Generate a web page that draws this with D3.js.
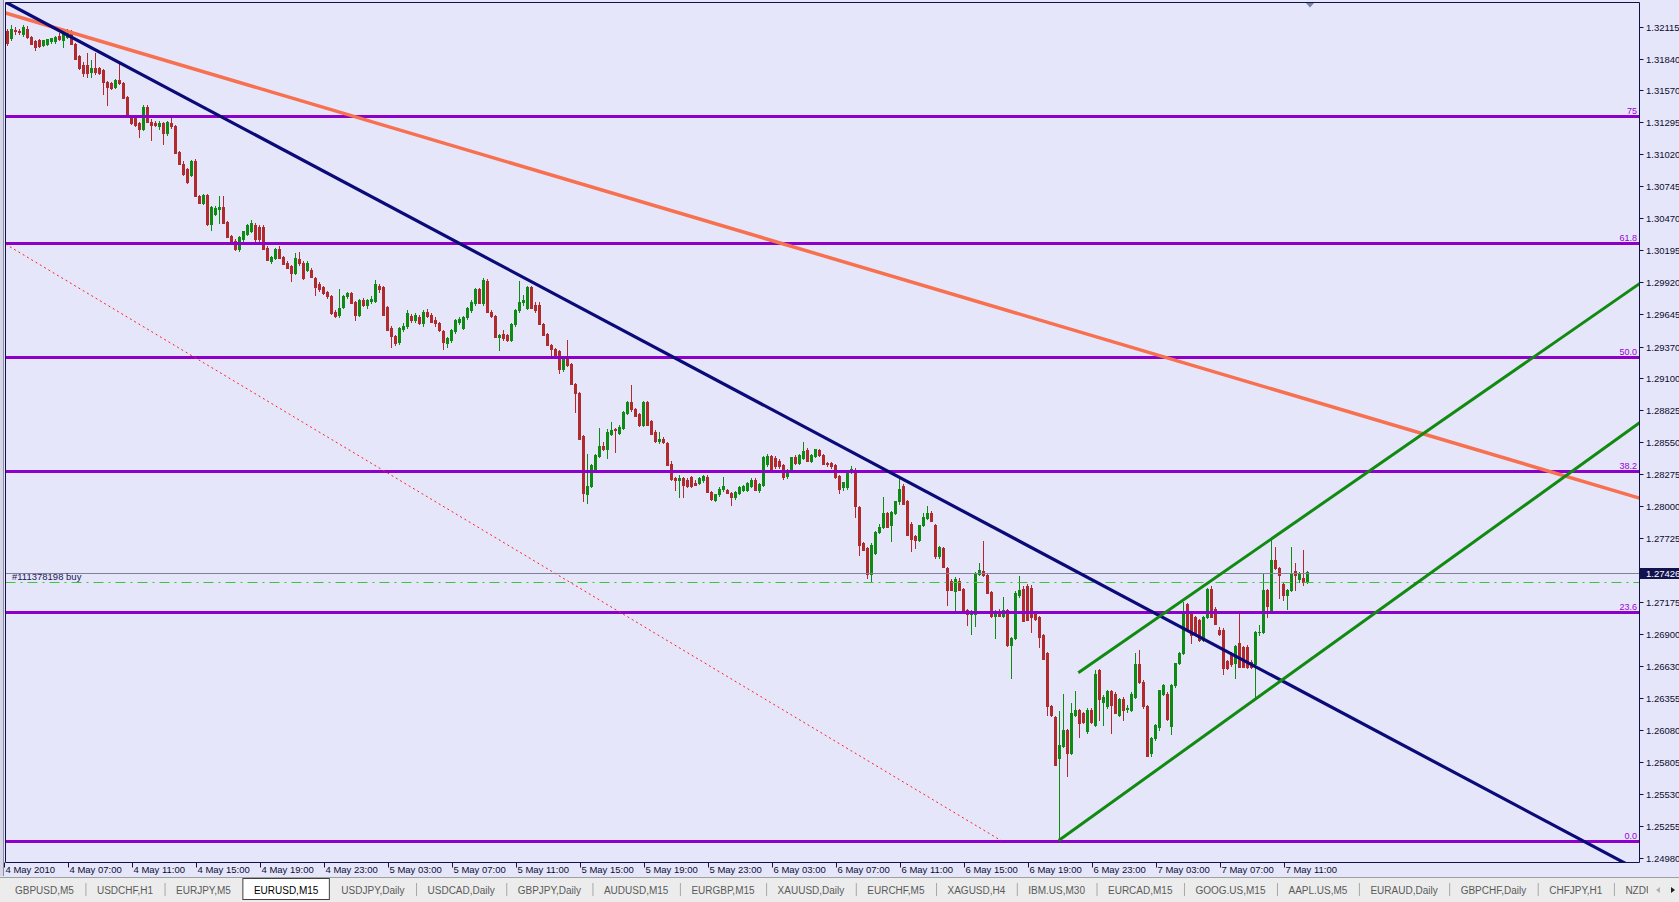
<!DOCTYPE html>
<html><head><meta charset="utf-8">
<script src="https://cdn.jsdelivr.net/npm/d3@7/dist/d3.min.js"></script>
<style>
html,body{margin:0;padding:0;background:#e6e6fa;overflow:hidden}
svg{display:block}
text{font-family:"Liberation Sans",Arial,sans-serif}
</style></head><body>
<svg id="chart" width="1679" height="902"></svg>
<script>
// ---------------- DATA ----------------
// EURUSD M15 candles [open, high, low, close], first bar = 4 May 2010 03:00
const may4 = [
[1.3208,1.3210,1.3196,1.3198],[1.3202,1.3213,1.3200,1.3210],[1.3209,1.3211,1.3205,1.3208],[1.3208,1.3210,1.3205,1.3207],
[1.3205,1.3213,1.3204,1.3211],[1.3210,1.3212,1.3202,1.3203],[1.3203,1.3204,1.3197,1.3197],[1.3199,1.3200,1.3192,1.3194],
[1.3200,1.3201,1.3194,1.3195],[1.3196,1.3200,1.3195,1.3200],[1.3197,1.3201,1.3196,1.3201],[1.3199,1.3202,1.3198,1.3202],
[1.3199,1.3204,1.3198,1.3203],[1.3204,1.3206,1.3200,1.3201],[1.3200,1.3206,1.3194,1.3206],[1.3203,1.3210,1.3202,1.3208],
[1.3206,1.3209,1.3197,1.3197],[1.3197,1.3198,1.3184,1.3184],[1.3186,1.3187,1.3175,1.3176],[1.3179,1.3181,1.3169,1.3172],
[1.3179,1.3189,1.3168,1.3172],[1.3173,1.3183,1.3168,1.3176],[1.3176,1.3189,1.3171,1.3173],[1.3176,1.3177,1.3171,1.3172],
[1.3174,1.3175,1.3154,1.3164],[1.3164,1.3165,1.3144,1.3160],[1.3163,1.3164,1.3158,1.3159],[1.3160,1.3167,1.3159,1.3166],
[1.3166,1.3182,1.3162,1.3163],[1.3163,1.3164,1.3150,1.3150],[1.3151,1.3152,1.3134,1.3134],[1.3134,1.3135,1.3128,1.3129],
[1.3133,1.3136,1.3126,1.3127],[1.3129,1.3130,1.3117,1.3124],[1.3124,1.3144,1.3123,1.3143],[1.3143,1.3144,1.3130,1.3130],
[1.3130,1.3132,1.3114,1.3127],[1.3129,1.3131,1.3126,1.3127],[1.3126,1.3131,1.3124,1.3129],[1.3129,1.3130,1.3111,1.3120],
[1.3120,1.3131,1.3119,1.3130],[1.3129,1.3133,1.3125,1.3126],[1.3126,1.3127,1.3103,1.3103],[1.3104,1.3105,1.3094,1.3094],
[1.3094,1.3096,1.3084,1.3085],[1.3089,1.3090,1.3077,1.3078],[1.3084,1.3097,1.3083,1.3096],[1.3096,1.3098,1.3066,1.3066],
[1.3066,1.3067,1.3060,1.3060],[1.3060,1.3068,1.3059,1.3067],[1.3067,1.3068,1.3041,1.3042],[1.3042,1.3058,1.3037,1.3057],
[1.3051,1.3058,1.3050,1.3056],[1.3055,1.3066,1.3043,1.3057],[1.3057,1.3066,1.3043,1.3043],[1.3044,1.3045,1.3031,1.3031],
[1.3032,1.3033,1.3025,1.3027],[1.3028,1.3029,1.3020,1.3021],[1.3021,1.3032,1.3019,1.3031],[1.3029,1.3036,1.3028,1.3036],
[1.3034,1.3042,1.3033,1.3041],[1.3036,1.3046,1.3035,1.3043],[1.3041,1.3043,1.3028,1.3029],[1.3040,1.3041,1.3028,1.3029],
[1.3040,1.3041,1.3021,1.3021],[1.3022,1.3023,1.3011,1.3011],[1.3010,1.3015,1.3009,1.3014],[1.3013,1.3022,1.3012,1.3021],
[1.3021,1.3023,1.3013,1.3013],[1.3014,1.3015,1.3008,1.3008],[1.3009,1.3010,1.3004,1.3004],[1.3006,1.3007,1.2993,1.3000],
[1.3000,1.3017,1.2999,1.3013],[1.3012,1.3018,1.3007,1.3009],[1.3009,1.3010,1.2995,1.2996],[1.3003,1.3010,1.3002,1.3009],
[1.3003,1.3004,1.2997,1.2997],[1.2996,1.2997,1.2981,1.2988],[1.2991,1.2992,1.2985,1.2986],[1.2988,1.2989,1.2982,1.2983],
[1.2984,1.2985,1.2979,1.2980],[1.2980,1.2981,1.2965,1.2966],[1.2967,1.2968,1.2962,1.2963],[1.2964,1.2986,1.2962,1.2970]
];
const may5 = [
[1.2971,1.2981,1.2970,1.2980],[1.2980,1.2984,1.2979,1.2983],[1.2983,1.2984,1.2974,1.2974],[1.2975,1.2976,1.2960,1.2964],
[1.2964,1.2978,1.2963,1.2977],[1.2977,1.2979,1.2972,1.2973],[1.2973,1.2978,1.2970,1.2977],[1.2976,1.2980,1.2974,1.2978],
[1.2976,1.2994,1.2975,1.2991],[1.2989,1.2991,1.2984,1.2986],[1.2988,1.2989,1.2964,1.2964],[1.2971,1.2972,1.2951,1.2951],
[1.2953,1.2955,1.2937,1.2946],[1.2946,1.2947,1.2938,1.2940],[1.2941,1.2954,1.2939,1.2953],[1.2952,1.2957,1.2950,1.2955],
[1.2955,1.2968,1.2953,1.2966],[1.2963,1.2965,1.2958,1.2960],[1.2960,1.2966,1.2958,1.2964],[1.2962,1.2964,1.2956,1.2957],
[1.2957,1.2968,1.2955,1.2967],[1.2967,1.2969,1.2962,1.2963],[1.2964,1.2966,1.2958,1.2958],[1.2960,1.2962,1.2955,1.2957],
[1.2957,1.2958,1.2950,1.2951],[1.2950,1.2951,1.2935,1.2941],[1.2940,1.2945,1.2937,1.2944],[1.2943,1.2952,1.2941,1.2951],
[1.2950,1.2961,1.2949,1.2960],[1.2958,1.2962,1.2956,1.2961],[1.2953,1.2963,1.2952,1.2962],[1.2962,1.2971,1.2961,1.2970],
[1.2968,1.2977,1.2967,1.2975],[1.2974,1.2987,1.2973,1.2986],[1.2986,1.2987,1.2974,1.2974],[1.2974,1.2996,1.2973,1.2994],
[1.2993,1.2995,1.2967,1.2967],[1.2967,1.2968,1.2962,1.2963],[1.2963,1.2964,1.2945,1.2945],[1.2945,1.2948,1.2934,1.2947],
[1.2948,1.2951,1.2943,1.2944],[1.2947,1.2948,1.2942,1.2943],[1.2943,1.2957,1.2942,1.2956],[1.2956,1.2969,1.2955,1.2968],
[1.2968,1.2993,1.2967,1.2975],[1.2975,1.2981,1.2973,1.2977],[1.2970,1.2989,1.2969,1.2988],[1.2988,1.2989,1.2970,1.2970],
[1.2973,1.2975,1.2967,1.2968],[1.2973,1.2975,1.2956,1.2956],[1.2956,1.2957,1.2947,1.2947],[1.2948,1.2949,1.2938,1.2938],
[1.2938,1.2939,1.2927,1.2935],[1.2935,1.2936,1.2930,1.2930],[1.2933,1.2934,1.2914,1.2918],[1.2918,1.2928,1.2916,1.2927],
[1.2928,1.2943,1.2920,1.2921],[1.2922,1.2923,1.2905,1.2905],[1.2905,1.2906,1.2881,1.2897],[1.2897,1.2898,1.2858,1.2858],
[1.2860,1.2861,1.2804,1.2811],[1.2810,1.2845,1.2803,1.2817],[1.2817,1.2836,1.2816,1.2835],[1.2831,1.2845,1.2830,1.2844],
[1.2843,1.2867,1.2842,1.2852],[1.2852,1.2855,1.2848,1.2849],[1.2849,1.2866,1.2841,1.2864],[1.2862,1.2872,1.2861,1.2865],
[1.2866,1.2867,1.2846,1.2865],[1.2863,1.2870,1.2862,1.2868],[1.2867,1.2882,1.2866,1.2881],[1.2880,1.2890,1.2879,1.2889],
[1.2889,1.2904,1.2882,1.2883],[1.2883,1.2884,1.2877,1.2877],[1.2879,1.2880,1.2869,1.2870],[1.2870,1.2890,1.2869,1.2889],
[1.2889,1.2890,1.2870,1.2870],[1.2873,1.2874,1.2862,1.2862],[1.2864,1.2865,1.2855,1.2856],[1.2856,1.2864,1.2854,1.2858],
[1.2858,1.2859,1.2854,1.2855],[1.2854,1.2855,1.2835,1.2835],[1.2836,1.2839,1.2822,1.2823],[1.2824,1.2825,1.2814,1.2822],
[1.2822,1.2827,1.2808,1.2824],[1.2824,1.2825,1.2808,1.2818],[1.2822,1.2824,1.2816,1.2817],[1.2825,1.2826,1.2816,1.2817],
[1.2820,1.2822,1.2818,1.2818],[1.2820,1.2825,1.2819,1.2824],[1.2822,1.2827,1.2821,1.2826],[1.2825,1.2827,1.2812,1.2812],
[1.2812,1.2813,1.2805,1.2806],[1.2805,1.2810,1.2804,1.2810],[1.2810,1.2816,1.2809,1.2815],[1.2815,1.2825,1.2813,1.2817]
];
const may6 = [
[1.2814,1.2815,1.2811,1.2811],[1.2811,1.2812,1.2801,1.2808],[1.2808,1.2813,1.2806,1.2812],[1.2811,1.2817,1.2810,1.2816],
[1.2814,1.2818,1.2813,1.2817],[1.2814,1.2821,1.2813,1.2820],[1.2817,1.2824,1.2816,1.2822],[1.2822,1.2824,1.2814,1.2814],
[1.2814,1.2820,1.2812,1.2819],[1.2818,1.2843,1.2817,1.2842],[1.2836,1.2845,1.2834,1.2843],[1.2843,1.2844,1.2830,1.2830],
[1.2841,1.2843,1.2833,1.2834],[1.2839,1.2840,1.2833,1.2834],[1.2835,1.2836,1.2823,1.2825],[1.2826,1.2832,1.2824,1.2831],
[1.2830,1.2842,1.2829,1.2842],[1.2842,1.2844,1.2836,1.2837],[1.2837,1.2845,1.2836,1.2844],[1.2841,1.2855,1.2840,1.2847],
[1.2848,1.2850,1.2839,1.2839],[1.2839,1.2845,1.2838,1.2844],[1.2843,1.2849,1.2842,1.2849],[1.2848,1.2849,1.2843,1.2844],
[1.2844,1.2845,1.2836,1.2836],[1.2837,1.2838,1.2834,1.2836],[1.2837,1.2838,1.2833,1.2834],[1.2835,1.2836,1.2824,1.2825],
[1.2826,1.2827,1.2811,1.2815],[1.2816,1.2821,1.2814,1.2821],[1.2816,1.2830,1.2815,1.2829],[1.2829,1.2834,1.2828,1.2832],
[1.2831,1.2833,1.2791,1.2800],[1.2799,1.2800,1.2758,1.2767],[1.2768,1.2769,1.2762,1.2762],[1.2764,1.2765,1.2738,1.2742],
[1.2742,1.2768,1.2735,1.2767],[1.2760,1.2779,1.2759,1.2778],[1.2778,1.2785,1.2777,1.2782],[1.2782,1.2808,1.2781,1.2794],
[1.2794,1.2795,1.2782,1.2782],[1.2784,1.2796,1.2770,1.2795],[1.2794,1.2804,1.2793,1.2804],[1.2804,1.2824,1.2802,1.2815],
[1.2817,1.2819,1.2802,1.2802],[1.2804,1.2805,1.2775,1.2775],[1.2785,1.2786,1.2761,1.2772],[1.2774,1.2775,1.2764,1.2771],
[1.2771,1.2784,1.2770,1.2784],[1.2784,1.2794,1.2783,1.2791],[1.2790,1.2800,1.2789,1.2794],[1.2794,1.2796,1.2787,1.2787],
[1.2784,1.2785,1.2755,1.2757],[1.2757,1.2766,1.2755,1.2765],[1.2764,1.2765,1.2748,1.2748],[1.2747,1.2748,1.2715,1.2728],
[1.2736,1.2737,1.2728,1.2728],[1.2727,1.2739,1.2710,1.2737],[1.2736,1.2738,1.2728,1.2728],[1.2729,1.2730,1.2708,1.2708],
[1.2711,1.2712,1.2698,1.2707],[1.2707,1.2711,1.2690,1.2710],[1.2707,1.2743,1.2697,1.2742],[1.2742,1.2751,1.2741,1.2745],
[1.2744,1.2770,1.2740,1.2741],[1.2741,1.2742,1.2725,1.2725],[1.2726,1.2727,1.2705,1.2706],[1.2706,1.2711,1.2687,1.2710],
[1.2710,1.2712,1.2706,1.2706],[1.2706,1.2722,1.2705,1.2711],[1.2711,1.2712,1.2680,1.2681],[1.2681,1.2688,1.2652,1.2687],
[1.2687,1.2727,1.2686,1.2725],[1.2724,1.2740,1.2722,1.2728],[1.2729,1.2731,1.2701,1.2701],[1.2731,1.2733,1.2702,1.2702],
[1.2730,1.2732,1.2692,1.2705],[1.2707,1.2708,1.2702,1.2703],[1.2705,1.2706,1.2679,1.2688],[1.2689,1.2690,1.2669,1.2669],
[1.2674,1.2675,1.2621,1.2628],[1.2628,1.2629,1.2620,1.2621],[1.2619,1.2620,1.2578,1.2578],[1.2584,1.2624,1.2513,1.2595],
[1.2594,1.2639,1.2593,1.2608],[1.2608,1.2609,1.2568,1.2588],[1.2588,1.2631,1.2587,1.2622],[1.2621,1.2641,1.2620,1.2625],
[1.2625,1.2626,1.2602,1.2614],[1.2622,1.2623,1.2614,1.2615],[1.2607,1.2627,1.2605,1.2625],[1.2625,1.2627,1.2614,1.2615],
[1.2612,1.2659,1.2611,1.2656],[1.2659,1.2660,1.2616,1.2634],[1.2632,1.2638,1.2612,1.2636],[1.2628,1.2642,1.2627,1.2641]
];
const may7 = [
[1.2641,1.2642,1.2605,1.2629],[1.2639,1.2640,1.2622,1.2622],[1.2621,1.2635,1.2620,1.2634],[1.2634,1.2636,1.2616,1.2625],
[1.2626,1.2629,1.2623,1.2627],[1.2625,1.2640,1.2624,1.2639],[1.2636,1.2674,1.2635,1.2664],[1.2664,1.2676,1.2648,1.2649],
[1.2649,1.2651,1.2627,1.2628],[1.2628,1.2629,1.2585,1.2585],[1.2588,1.2602,1.2585,1.2601],[1.2601,1.2613,1.2599,1.2612],
[1.2610,1.2642,1.2608,1.2642],[1.2639,1.2647,1.2638,1.2646],[1.2639,1.2640,1.2616,1.2617],[1.2611,1.2647,1.2604,1.2646],
[1.2646,1.2665,1.2645,1.2665],[1.2665,1.2675,1.2664,1.2674],[1.2674,1.2718,1.2673,1.2709],[1.2716,1.2717,1.2693,1.2694],
[1.2708,1.2709,1.2682,1.2689],[1.2705,1.2706,1.2689,1.2690],[1.2702,1.2703,1.2684,1.2685],[1.2685,1.2706,1.2684,1.2705],
[1.2705,1.2730,1.2704,1.2729],[1.2729,1.2731,1.2705,1.2705],[1.2712,1.2713,1.2699,1.2699],[1.2694,1.2696,1.2689,1.2690],
[1.2694,1.2695,1.2656,1.2661],[1.2667,1.2668,1.2660,1.2661],[1.2674,1.2675,1.2663,1.2664],[1.2665,1.2681,1.2652,1.2680],
[1.2682,1.2709,1.2662,1.2662],[1.2679,1.2680,1.2662,1.2662],[1.2679,1.2681,1.2661,1.2662],[1.2666,1.2668,1.2661,1.2662],
[1.2664,1.2693,1.2636,1.2692],[1.2692,1.2698,1.2689,1.2692],[1.2692,1.2742,1.2691,1.2728],[1.2728,1.2729,1.2705,1.2714],
[1.2711,1.2771,1.2710,1.2754],[1.2754,1.2765,1.2746,1.2747],[1.2747,1.2748,1.2721,1.2741],[1.2733,1.2734,1.2719,1.2724],
[1.2724,1.2729,1.2712,1.2728],[1.2728,1.2765,1.2727,1.2742],[1.2744,1.2751,1.2728,1.2741],[1.2737,1.2743,1.2735,1.2742],
[1.2738,1.2762,1.2732,1.2735],[1.2735,1.2744,1.2734,1.2743]
];

const priceTicks = [1.32115,1.31840,1.31570,1.31295,1.31020,1.30745,1.30470,1.30195,1.29920,1.29645,1.29370,1.29100,1.28825,
  1.28550,1.28275,1.28000,1.27725,1.27175,1.26900,1.26630,1.26355,1.26080,1.25805,1.25530,1.25255,1.24980];
const timeLabels = ["4 May 2010","4 May 07:00","4 May 11:00","4 May 15:00","4 May 19:00","4 May 23:00","5 May 03:00",
  "5 May 07:00","5 May 11:00","5 May 15:00","5 May 19:00","5 May 23:00","6 May 03:00","6 May 07:00","6 May 11:00",
  "6 May 15:00","6 May 19:00","6 May 23:00","7 May 03:00","7 May 07:00","7 May 11:00"];
const barsPerLabel = 16;

// Fibonacci retracement anchors [bar index, price]
const fibHigh = [-154.7, 1.33426];
const fibLow  = [248.6, 1.25128];
const fibLevels = [0, 23.6, 38.2, 50.0, 61.8, 75];
const fibLabels = ["0.0","23.6","38.2","50.0","61.8","75"];

// Trend lines: anchors [bar index, price]
const navyTrend   = [[0, 1.32322],[403.1, 1.24961]];
const salmonTrend = [[0, 1.32231],[408.1, 1.28069]];
const channelUpper = [[267.9, 1.26569],[408.1, 1.29907]];
const channelLower = [[263, 1.25128],[408.1, 1.28713]];

const bidPrice = 1.27426;
const orderPrice = 1.27350;
const orderLabel = "#111378198 buy";

const tabs = ["GBPUSD,M5","USDCHF,H1","EURJPY,M5","EURUSD,M15","USDJPY,Daily","USDCAD,Daily","GBPJPY,Daily",
  "AUDUSD,M15","EURGBP,M15","XAUUSD,Daily","EURCHF,M5","XAGUSD,H4","IBM.US,M30","EURCAD,M15","GOOG.US,M15",
  "AAPL.US,M5","EURAUD,Daily","GBPCHF,Daily","CHFJPY,H1","NZDUSD,Daily"];
const activeTab = "EURUSD,M15";

// ---------------- DRAW ----------------
const candles = [].concat(may4, may5, may6, may7);
const svg = d3.select("#chart");
const BG = "#e6e6fa", FRAME = "#12124a";
const plot = {l:5.5, t:2.5, r:1639.5, b:862.5};

const x = d3.scaleLinear().domain([0, 100]).range([6.7, 406.7]);
const y = d3.scaleLinear().domain([1.24980, 1.32115]).range([857.8, 26.8]);

svg.append("rect").attr("width",1679).attr("height",902).attr("fill",BG);
// left gutter
svg.append("rect").attr("x",0).attr("y",0).attr("width",3).attr("height",876).attr("fill","#d6d6e6");
svg.append("line").attr("x1",3.5).attr("x2",3.5).attr("y1",0).attr("y2",876).attr("stroke","#8a8aa8");

const defs = svg.append("defs");
defs.append("clipPath").attr("id","clip").append("rect")
  .attr("x",plot.l+0.5).attr("y",plot.t+0.5).attr("width",plot.r-plot.l-1).attr("height",plot.b-plot.t-1);
defs.append("clipPath").attr("id","tabclip").append("rect")
  .attr("x",0).attr("y",876).attr("width",1648).attr("height",26);
const g = svg.append("g").attr("clip-path","url(#clip)");

// candles
const bull = "#0f8a14", bear = "#b02a2e";
const cg = g.append("g");
candles.forEach((d,i)=>{
  const [o,h,l,c] = d;
  const px = Math.round(x(i));
  const col = c >= o ? bull : bear;
  cg.append("line").attr("x1",px+0.5).attr("x2",px+0.5)
    .attr("y1",Math.round(y(h))).attr("y2",Math.round(y(l))+1).attr("stroke",col).attr("stroke-width",1);
  const yt = Math.round(y(Math.max(o,c))), yb = Math.round(y(Math.min(o,c)));
  cg.append("rect").attr("x",px-1).attr("width",3).attr("y",yt).attr("height",Math.max(1,yb-yt+1)).attr("fill",col);
});

// fibonacci levels
const fibRange = fibHigh[1]-fibLow[1];
fibLevels.forEach((lv,k)=>{
  const p = fibLow[1] + fibRange*lv/100;
  const yy = Math.round(y(p));
  g.append("line").attr("x1",plot.l).attr("x2",plot.r).attr("y1",yy+0.5).attr("y2",yy+0.5)
    .attr("stroke","#8c00cc").attr("stroke-width",3);
  svg.append("text").attr("x",1637).attr("y",yy-2).attr("text-anchor","end")
    .attr("font-size",9).attr("fill","#9a00d6").text(fibLabels[k]);
});
// fib diagonal (dotted red)
g.append("line").attr("x1",x(fibHigh[0])).attr("y1",y(fibHigh[1])).attr("x2",x(fibLow[0])).attr("y2",y(fibLow[1]))
  .attr("stroke","#ff2020").attr("stroke-width",1).attr("stroke-dasharray","2,3");

// bid line & order line
const yb = Math.round(y(bidPrice))+0.5;
g.append("line").attr("x1",plot.l).attr("x2",plot.r).attr("y1",yb).attr("y2",yb).attr("stroke","#80809a").attr("stroke-width",1);
const yo = Math.round(y(orderPrice))+0.5;
g.append("line").attr("x1",plot.l).attr("x2",plot.r).attr("y1",yo).attr("y2",yo).attr("stroke","#3cc43c")
  .attr("stroke-width",1).attr("stroke-dasharray","10,5,2,5");
svg.append("text").attr("x",12).attr("y",yo-2.5).attr("font-size",9.5).attr("fill","#1a1a50").text(orderLabel);

// trend lines
function extLine(a, b, from, to){
  const s = (b[1]-a[1])/(b[0]-a[0]);
  return [[from, a[1]+s*(from-a[0])],[to, a[1]+s*(to-a[0])]];
}
function drawLine(pts, col, w){
  g.append("line").attr("x1",x(pts[0][0])).attr("y1",y(pts[0][1])).attr("x2",x(pts[1][0])).attr("y2",y(pts[1][1]))
    .attr("stroke",col).attr("stroke-width",w).attr("stroke-linecap","butt");
}
drawLine(extLine(salmonTrend[0],salmonTrend[1],-2,412), "#f7704f", 3.5);
drawLine(extLine(navyTrend[0],navyTrend[1],-2,412), "#0a0a78", 3.2);
drawLine(extLine(channelUpper[0],channelUpper[1],channelUpper[0][0],412), "#118a11", 3);
drawLine(extLine(channelLower[0],channelLower[1],channelLower[0][0],412), "#118a11", 3);

// frame
svg.append("line").attr("x1",plot.l).attr("x2",plot.r).attr("y1",plot.t).attr("y2",plot.t).attr("stroke",FRAME);
svg.append("line").attr("x1",plot.l).attr("x2",plot.r).attr("y1",plot.b).attr("y2",plot.b).attr("stroke",FRAME);
svg.append("line").attr("x1",plot.l).attr("x2",plot.l).attr("y1",plot.t).attr("y2",plot.b).attr("stroke",FRAME);
svg.append("line").attr("x1",plot.r).attr("x2",plot.r).attr("y1",plot.t).attr("y2",plot.b).attr("stroke",FRAME);

// shift marker
svg.append("path").attr("d","M1306,3 L1314,3 L1310,7.5 Z").attr("fill","#7884a4");

// price axis
priceTicks.forEach(p=>{
  const yy = Math.round(y(p))+0.5;
  svg.append("line").attr("x1",plot.r).attr("x2",plot.r+4).attr("y1",yy).attr("y2",yy).attr("stroke",FRAME);
  svg.append("text").attr("x",1646).attr("y",yy+3.3).attr("font-size",9.5).attr("fill","#0c0c30").text(p.toFixed(5));
});
const by = Math.round(y(bidPrice));
svg.append("rect").attr("x",1640).attr("y",by-5).attr("width",39).attr("height",11).attr("fill","#12124e");
svg.append("text").attr("x",1646).attr("y",by+3.5).attr("font-size",9.5).attr("fill","#ffffff").text(bidPrice.toFixed(5));

// time axis
timeLabels.forEach((t,k)=>{
  const xx = Math.round(x(k*barsPerLabel));
  svg.append("line").attr("x1",xx-2.5).attr("x2",xx-2.5).attr("y1",plot.b).attr("y2",plot.b+5).attr("stroke",FRAME);
  svg.append("text").attr("x",xx-1.5).attr("y",873).attr("font-size",9.5).attr("fill","#0c0c30").text(t);
});

// tab bar
const tb = svg.append("g");
tb.append("rect").attr("x",0).attr("y",877).attr("width",1679).attr("height",25).attr("fill","#ececec");
tb.append("line").attr("x1",0).attr("x2",1679).attr("y1",877.5).attr("y2",877.5).attr("stroke","#a0a0a0");
const tt = tb.append("g").attr("clip-path","url(#tabclip)");
let cx = 15;
tabs.forEach((t,k)=>{
  const txt = tt.append("text").attr("x",cx).attr("y",893.5).attr("font-size",10).text(t);
  const w = txt.node().getComputedTextLength();
  if (t === activeTab){
    tt.insert("rect","text").attr("x",cx-11).attr("y",878.5).attr("width",w+22).attr("height",21)
      .attr("fill","#ffffff").attr("stroke","#404040");
    txt.attr("fill","#000000");
  } else {
    txt.attr("fill","#5a5a5a");
    const nextActive = tabs[k+1] === activeTab;
    if (!nextActive && k < tabs.length-1){
      tt.append("line").attr("x1",cx+w+12).attr("x2",cx+w+12).attr("y1",883).attr("y2",896).attr("stroke","#a8a8a8");
    }
  }
  cx += w + 23;
});
tb.append("path").attr("d","M1656,890 L1660,887 L1660,893 Z").attr("fill","#b0b0b0");
tb.append("path").attr("d","M1671,887 L1675,890 L1671,893 Z").attr("fill","#202020");
</script>
</body></html>
